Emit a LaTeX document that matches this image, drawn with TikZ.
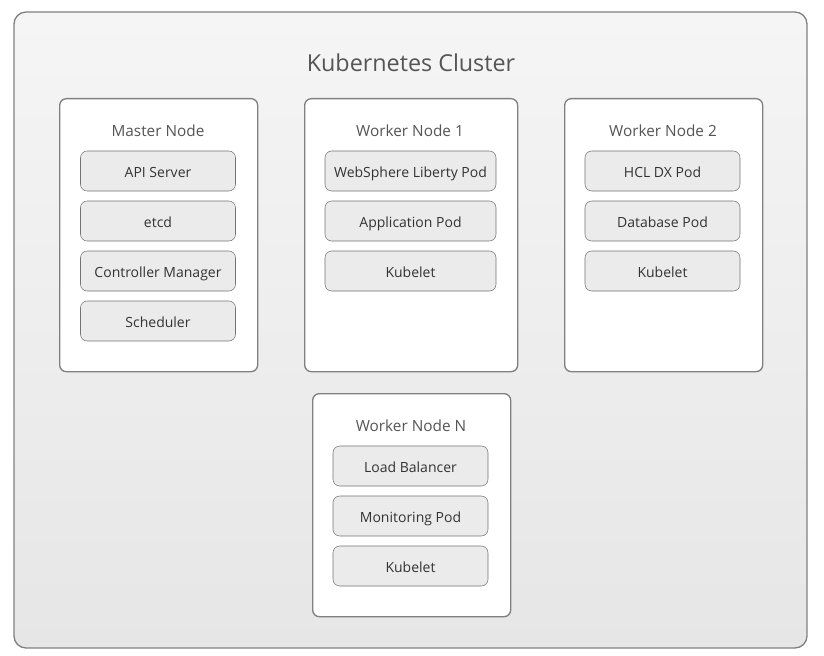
\documentclass[tikz,border=0pt]{standalone}
\usepackage{fontspec}
\setmainfont{Open Sans}
\usetikzlibrary{positioning}
\definecolor{clusterfill}{HTML}{E6E6E6}
\definecolor{podfill}{HTML}{EBEBEB}
\definecolor{edgegray}{HTML}{808080}
\definecolor{titlegray}{HTML}{555555}
\begin{document}
\begin{tikzpicture}[x=0.75pt,y=-0.75pt,
    cluster/.style={draw=edgegray,line width=1pt,rounded corners=9pt,top color=white!60!clusterfill,bottom color=clusterfill},
    machine/.style={draw=edgegray,line width=1pt,fill=white,rounded corners=5pt,anchor=north west,inner sep=0pt},
    pod/.style={draw=edgegray!90!black,fill=podfill,rounded corners=5pt,minimum height=30pt,text height=10.5pt,text depth=1.5pt,font=\fontsize{10.5}{12}\selectfont,text=black!80},
    boxtitle/.style={font=\fontsize{11.5}{13}\selectfont,text=titlegray}]
    \useasboundingbox (0,0) rectangle (824,656);
    \draw[cluster] (14,12) rectangle (807,648);
    \node[text=titlegray,font=\fontsize{17.5}{20}\selectfont] (title) at (411,63) {Kubernetes Cluster};

    % Machines
    \node[machine,minimum width=148.5pt,minimum height=204.75pt] (master) at (59,98) {};
    \node[machine,minimum width=159.75pt,minimum height=204.75pt] (worker1) at (304,98) {};
    \node[machine,minimum width=148.5pt,minimum height=204.75pt] (worker2) at (564,98) {};
    \node[machine,minimum width=148.5pt,minimum height=167.25pt] (workerN) at (312,393) {};

    \node[boxtitle] (mastertitle) at (158,131) {Master Node};
    \node[boxtitle] (worker1title) at (410,131) {Worker Node 1};
    \node[boxtitle] (worker2title) at (663,131) {Worker Node 2};
    \node[boxtitle] (workerNtitle) at (411,426) {Worker Node N};

    % Pods
    \foreach \name/\label [count=\i] in {api/API Server,etcd/etcd,ctrl/Controller Manager,sched/Scheduler} {
        \node[pod,minimum width=116.25pt] (\name) at (158,121+50*\i) {\label};
    }
    \foreach \name/\label [count=\i] in {liberty/WebSphere Liberty Pod,app/Application Pod,kubeletA/Kubelet} {
        \node[pod,minimum width=128.25pt] (\name) at (410.5,121+50*\i) {\label};
    }
    \foreach \name/\label [count=\i] in {dx/HCL DX Pod,db/Database Pod,kubeletB/Kubelet} {
        \node[pod,minimum width=116.25pt] (\name) at (662.5,121+50*\i) {\label};
    }
    \foreach \name/\label [count=\i] in {lb/Load Balancer,mon/Monitoring Pod,kubeletN/Kubelet} {
        \node[pod,minimum width=116.25pt] (\name) at (410.5,416+50*\i) {\label};
    }
\end{tikzpicture}
\end{document}
